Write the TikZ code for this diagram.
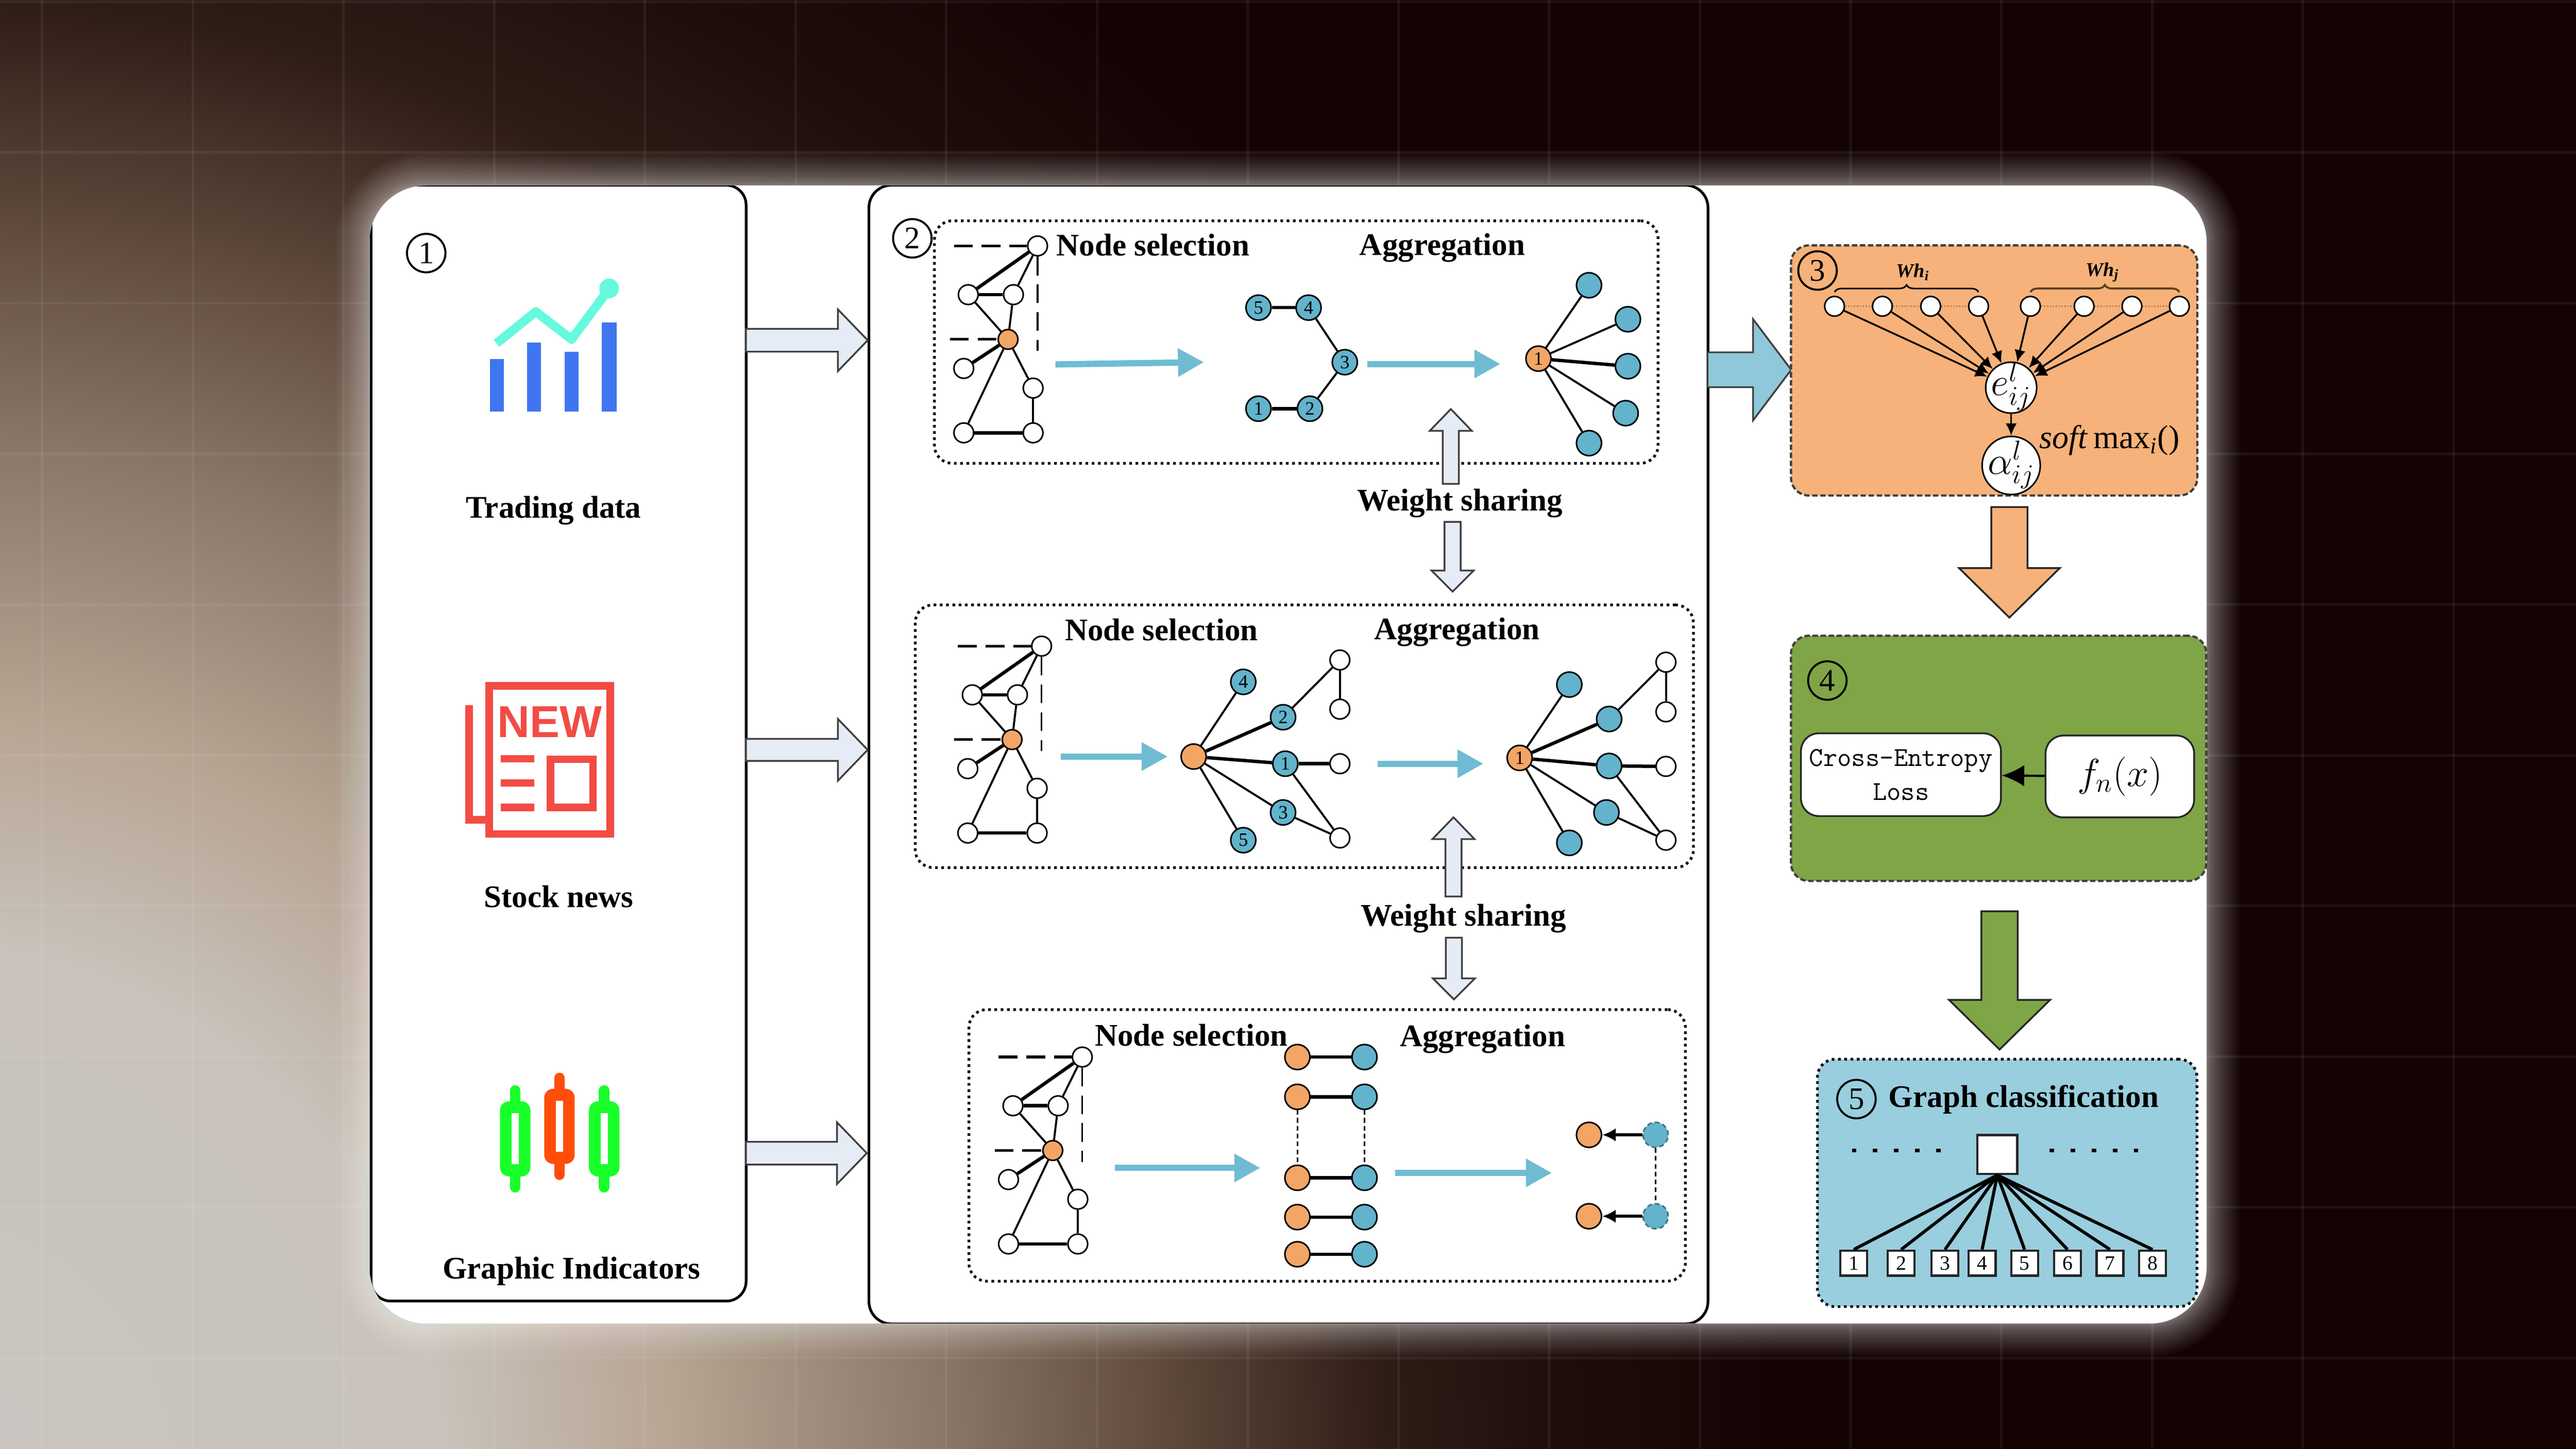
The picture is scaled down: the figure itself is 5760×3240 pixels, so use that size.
\documentclass[tikz,border=0pt]{standalone}
\usepackage{fontspec}
\setmainfont{Liberation Serif}
\setsansfont{Liberation Sans}
\usetikzlibrary{positioning,shapes,arrows.meta,decorations.pathreplacing}

\definecolor{bgdark}{HTML}{130303}
\definecolor{bgA}{HTML}{C9C5C0}
\definecolor{bgB}{HTML}{C8C2BA}
\definecolor{bgC}{HTML}{B8A594}
\definecolor{bgD}{HTML}{8C7868}
\definecolor{bgE}{HTML}{5F4A3C}
\definecolor{bgF}{HTML}{2E1C16}
\definecolor{bgG}{HTML}{1E0E0B}
\definecolor{nodeblue}{HTML}{62B3CB}
\definecolor{nodeorange}{HTML}{F3A566}
\definecolor{flowblue}{HTML}{6FBCD2}
\definecolor{arrowgray}{HTML}{E6ECF5}
\definecolor{attnorange}{HTML}{F6B27A}
\definecolor{lossgreen}{HTML}{7FA547}
\definecolor{classblue}{HTML}{99CEDE}
\definecolor{bigblue}{HTML}{8FC8DA}
\definecolor{barblue}{HTML}{3F76F0}
\definecolor{trendmint}{HTML}{66F9DD}
\definecolor{newsred}{HTML}{F24C45}
\definecolor{candlegreen}{HTML}{19FF2A}
\definecolor{candlered}{HTML}{FF4D0A}

\pgfdeclareradialshading{bgglow}{\pgfpoint{0bp}{0bp}}{%
  color(0bp)=(bgA); color(7.14bp)=(bgB); color(10.12bp)=(bgC); color(13.69bp)=(bgD);
  color(16.67bp)=(bgE); color(19.64bp)=(bgF); color(22.02bp)=(bgG); color(25bp)=(bgdark); color(50bp)=(bgdark)}

% one candle of the indicator icon
\newcommand{\candle}[3]{%
  \draw[#3, line width=.24cm, line cap=round] (#1,#2-108) -- (#1,#2+108);
  \fill[#3, rounded corners=.2cm] (#1-34,#2-84) rectangle (#1+34,#2+84);
  \fill[white] (#1-8,#2-57) rectangle (#1+8,#2+57);
}

% the graph that is repeated on the left of the three dotted frames
\newcommand{\selgraph}{%
  \node[wnode] (top) at (2320,550) {};
  \node[wnode] (left) at (2165,659) {};
  \node[wnode] (right) at (2266,659) {};
  \node[onode, minimum size=.44cm] (mid) at (2254,759) {};
  \node[wnode] (leaf) at (2155,824) {};
  \node[wnode] (low) at (2310,868) {};
  \node[wnode] (botl) at (2155,968) {};
  \node[wnode] (botr) at (2310,968) {};
  \coordinate (dasha) at (2133,550);
  \coordinate (dashb) at (2124,759);
  \coordinate (dashc) at (2320,785);
  \draw[hopdash] (dasha) -- (top);
  \draw[hopdash] (dashb) -- (mid);
  \draw[hopdash, line width=.04cm] (top) -- (dashc);
  \draw[boldedge] (top) -- (left);
  \draw[edgeline] (top) -- (right);
  \draw[boldedge] (left) -- (right);
  \draw[edgeline] (left) -- (mid);
  \draw[edgeline] (right) -- (mid);
  \draw[boldedge] (mid) -- (leaf);
  \draw[edgeline] (mid) -- (low);
  \draw[edgeline] (mid) -- (botl);
  \draw[edgeline] (low) -- (botr);
  \draw[boldedge] (botl) -- (botr);
}

\tikzset{
  txt/.style={font=\fontsize{20}{24}\bfseries\selectfont, inner sep=0pt},
  circlednum/.style={circle, draw=black, line width=.045cm, minimum size=.86cm, inner sep=0pt,
    font=\fontsize{20}{20}\selectfont},
  wnode/.style={circle, draw=black, fill=white, inner sep=0pt, minimum size=.44cm, line width=.035cm},
  bnode/.style={wnode, fill=nodeblue, minimum size=.56cm, font=\fontsize{12}{12}\selectfont},
  onode/.style={bnode, fill=nodeorange},
  edgeline/.style={line width=.045cm, black},
  boldedge/.style={line width=.075cm, black},
  hopdash/.style={line width=.06cm, black, dash pattern=on .42cm off .2cm},
  flow/.style={line width=.14cm, flowblue, -{Triangle[length=.58cm,width=.6cm]}},
  dotframe/.style={draw=black, rounded corners=.4cm, line width=.06cm,
    dash pattern=on .06cm off .08cm},
  sidebox/.style={rounded corners=.4cm, line width=.05cm, draw=black!75, dash pattern=on .12cm off .06cm},
  outerbox/.style={draw=black, line width=.06cm, fill=white},
  softbox/.style={draw=black!85, fill=white, rounded corners=.4cm, line width=.04cm, inner sep=0pt},
  smallsq/.style={draw=black!85, fill=white, line width=.05cm, minimum width=.6cm, minimum height=.56cm,
    inner sep=0pt, font=\fontsize{13}{13}\selectfont},
  attn/.style={-{Latex[length=.27cm,width=.25cm]}, line width=.04cm, black},
  dotrow/.style={line width=.09cm, black, dash pattern=on .1cm off .37cm},
  % length, half shaft, head extend, tip angle
  bigarrow/.style n args={4}{single arrow, draw=black!75, fill=arrowgray, line width=.04cm, anchor=tail,
    inner xsep=0pt, inner ysep=#2cm, outer sep=0pt, single arrow head indent=0pt,
    minimum height=#1cm, single arrow head extend=#3cm, single arrow tip angle=#4},
}

\begin{document}
\begin{tikzpicture}[x=.01cm, y=-.01cm]
  \path[use as bounding box] (0,0) rectangle (5760,3240);

  % background
  \begin{scope}
    \clip (0,0) rectangle (5760,3240);
    \fill[bgdark] (0,0) rectangle (5760,3240);
    \shade[shading=bgglow] (-200,3300) circle (42cm);
    \foreach \gx in {94,431,...,5486} {
      \draw[white, opacity=.06, line width=.06cm] (\gx,0) -- (\gx,3240);
    }
    \foreach \gy in {4,341,...,3037} {
      \draw[white, opacity=.06, line width=.06cm] (0,\gy) -- (5760,\gy);
    }
    \foreach \g in {1,...,30} {
      \pgfmathsetmacro\ge{75*(1-(\g-1)/30)^2}
      \pgfmathsetmacro\gr{(127+\ge)/100}
      \fill[white, opacity=.025, rounded corners=\gr cm] (826-\ge,415-\ge) rectangle (4934+\ge,2960+\ge);
    }
  \end{scope}
  \fill[white, rounded corners=1.27cm] (826,415) rectangle (4934,2960);

  % outer boxes, cut by the white sheet
  \begin{scope}
    \clip[rounded corners=1.27cm] (826,415) rectangle (4934,2960);
    \node[outerbox, rounded corners=.44cm, minimum width=8.38cm, minimum height=24.94cm] (input) at (1249,1662) {};
    \node[outerbox, rounded corners=.5cm, minimum width=18.75cm, minimum height=25.45cm] (gnn) at (2881,1687.5) {};
  \end{scope}

  % part 1
  \node[circlednum] (numone) at (953,566) {1};
  \fill[barblue] (1095,803) rectangle (1127,920);
  \fill[barblue] (1179,766) rectangle (1210,920);
  \fill[barblue] (1262,787) rectangle (1294,920);
  \fill[barblue] (1346,721) rectangle (1379,920);
  \draw[trendmint, line width=.2cm, line join=round] (1110,768) -- (1198,697) -- (1278,759) -- (1362,646);
  \fill[trendmint] (1362,645) circle (.22cm);
  \node[txt] (trading) at (1238,1142) {Trading data};

  \draw[newsred, line width=.17cm] (1093.5,1534) rectangle (1364.5,1865);
  \draw[newsred, line width=.17cm] (1049,1577) -- (1049,1833) -- (1090,1833);
  \node[inner sep=0pt, text=newsred, font=\fontsize{28.5}{30}\sffamily\bfseries\selectfont] (newtxt) at (1229,1615) {NEW};
  \draw[newsred, line width=.17cm] (1120,1697) -- (1195,1697);
  \draw[newsred, line width=.17cm] (1120,1751) -- (1195,1751);
  \draw[newsred, line width=.17cm] (1120,1806) -- (1195,1806);
  \draw[newsred, line width=.17cm] (1231,1698) rectangle (1326,1806);
  \node[txt] (news) at (1249,2005) {Stock news};

  \candle{1152}{2547}{candlegreen}
  \candle{1251}{2519}{candlered}
  \candle{1351}{2547}{candlegreen}
  \node[txt] (indicators) at (1278,2843) {Graphic Indicators};

  \node[bigarrow={2.72}{.235}{.435}{92}] (inA) at (1668,761) {};
  \node[bigarrow={2.72}{.225}{.445}{92}] (inB) at (1668,1677) {};
  \node[bigarrow={2.70}{.235}{.435}{92}] (inC) at (1668,2579) {};

  % part 2, frames
  \node[dotframe, minimum width=16.17cm, minimum height=5.42cm] (frameA) at (2898.5,765) {};
  \node[dotframe, minimum width=17.39cm, minimum height=5.87cm] (frameB) at (2916.5,1646.5) {};
  \node[dotframe, minimum width=16.01cm, minimum height=6.07cm] (frameC) at (2967.5,2561.5) {};
  \node[circlednum, fill=white] (numtwo) at (2040,533) {2};

  % part 2, first row
  \node[txt] (selA) at (2578,548) {Node selection};
  \node[txt] (aggA) at (3225,554) {Aggregation};
  \begin{scope}[name prefix=a-]
    \selgraph
  \end{scope}
  \node[bnode] (a5) at (2814,688) {5};
  \node[bnode] (a4) at (2926,688) {4};
  \node[bnode] (a3) at (3007,810) {3};
  \node[bnode] (a2) at (2929,914) {2};
  \node[bnode] (a1) at (2814,914) {1};
  \draw[boldedge] (a5) -- (a4);
  \draw[edgeline] (a4) -- (a3);
  \draw[edgeline] (a3) -- (a2);
  \draw[boldedge] (a2) -- (a1);
  \node[onode] (ra) at (3440,802) {1};
  \node[bnode] (ra1) at (3553,638) {};
  \node[bnode] (ra2) at (3640,714) {};
  \node[bnode] (ra3) at (3640,819) {};
  \node[bnode] (ra4) at (3635,924) {};
  \node[bnode] (ra5) at (3553,991) {};
  \draw[edgeline] (ra) -- (ra1);
  \draw[edgeline] (ra) -- (ra2);
  \draw[boldedge] (ra) -- (ra3);
  \draw[edgeline] (ra) -- (ra4);
  \draw[edgeline] (ra) -- (ra5);
  \coordinate (fa1) at (2360,815);
  \coordinate (fa2) at (2692,810);
  \coordinate (fa3) at (3057,814);
  \coordinate (fa4) at (3355,814);
  \draw[flow] (fa1) -- (fa2);
  \draw[flow] (fa3) -- (fa4);

  \node[bigarrow={1.67}{.16}{.29}{88}] (shareA) at (3244,1082) [rotate=90] {};
  \node[txt] (weightA) at (3264,1125) {Weight sharing};
  \node[bigarrow={1.56}{.16}{.29}{90}] (shareB) at (3248,1167) [rotate=-90] {};

  % part 2, second row
  \node[txt] (selB) at (2597,1409) {Node selection};
  \node[txt] (aggB) at (3258,1413) {Aggregation};
  \begin{scope}[shift={(9,895)}, name prefix=b-]
    \selgraph
  \end{scope}
  \node[onode] (m) at (2669,1692) {};
  \node[bnode] (m4) at (2780,1525) {4};
  \node[bnode] (m2) at (2869,1604) {2};
  \node[bnode] (m1) at (2874,1708) {1};
  \node[bnode] (m3) at (2869,1817) {3};
  \node[bnode] (m5) at (2780,1879) {5};
  \node[wnode] (mw1) at (2996,1476) {};
  \node[wnode] (mw2) at (2996,1586) {};
  \node[wnode] (mw3) at (2996,1708) {};
  \node[wnode] (mw4) at (2996,1874) {};
  \draw[edgeline] (m) -- (m4);
  \draw[boldedge] (m) -- (m2);
  \draw[boldedge] (m) -- (m1);
  \draw[edgeline] (m) -- (m3);
  \draw[edgeline] (m) -- (m5);
  \draw[edgeline] (m2) -- (mw1);
  \draw[edgeline] (mw1) -- (mw2);
  \draw[boldedge] (m1) -- (mw3);
  \draw[edgeline] (m1) -- (mw4);
  \draw[edgeline] (m3) -- (mw4);
  \node[onode] (n) at (3398,1695) {1};
  \node[bnode] (n4) at (3509,1531) {};
  \node[bnode] (n2) at (3598,1608) {};
  \node[bnode] (n1) at (3598,1713) {};
  \node[bnode] (n3) at (3592,1817) {};
  \node[bnode] (n5) at (3509,1885) {};
  \node[wnode] (nw1) at (3725,1481) {};
  \node[wnode] (nw2) at (3725,1592) {};
  \node[wnode] (nw3) at (3725,1714) {};
  \node[wnode] (nw4) at (3725,1879) {};
  \draw[edgeline] (n) -- (n4);
  \draw[boldedge] (n) -- (n2);
  \draw[boldedge] (n) -- (n1);
  \draw[edgeline] (n) -- (n3);
  \draw[edgeline] (n) -- (n5);
  \draw[edgeline] (n2) -- (nw1);
  \draw[edgeline] (nw1) -- (nw2);
  \draw[boldedge] (n1) -- (nw3);
  \draw[edgeline] (n1) -- (nw4);
  \draw[edgeline] (n3) -- (nw4);
  \coordinate (fb1) at (2372,1692);
  \coordinate (fb2) at (2611,1692);
  \coordinate (fb3) at (3080,1708);
  \coordinate (fb4) at (3317,1708);
  \draw[flow] (fb1) -- (fb2);
  \draw[flow] (fb3) -- (fb4);

  \node[bigarrow={1.77}{.16}{.29}{88}] (shareC) at (3250,2005) [rotate=90] {};
  \node[txt] (weightB) at (3272,2054) {Weight sharing};
  \node[bigarrow={1.38}{.16}{.29}{90}] (shareD) at (3251,2097) [rotate=-90] {};

  % part 2, third row
  \node[txt] (selC) at (2664,2315) {Node selection};
  \node[txt] (aggC) at (3315,2324) {Aggregation};
  \begin{scope}[shift={(100,1814)}, name prefix=c-]
    \selgraph
  \end{scope}
  \node[onode] (pa) at (2901,2364) {};
  \node[bnode] (qa) at (3051,2364) {};
  \node[onode] (pb) at (2901,2453) {};
  \node[bnode] (qb) at (3051,2453) {};
  \node[onode] (pc) at (2901,2634) {};
  \node[bnode] (qc) at (3051,2634) {};
  \node[onode] (pd) at (2901,2722) {};
  \node[bnode] (qd) at (3051,2722) {};
  \node[onode] (pe) at (2901,2805) {};
  \node[bnode] (qe) at (3051,2805) {};
  \draw[boldedge] (pa) -- (qa);
  \draw[boldedge] (pb) -- (qb);
  \draw[boldedge] (pc) -- (qc);
  \draw[boldedge] (pd) -- (qd);
  \draw[boldedge] (pe) -- (qe);
  \draw[line width=.03cm, densely dashed] (pb) -- (pc);
  \draw[line width=.03cm, densely dashed] (qb) -- (qc);
  \node[onode] (sa) at (3553,2538) {};
  \node[onode] (sb) at (3553,2720) {};
  \node[bnode, densely dashed, draw=flowblue!60!black] (ta) at (3702,2538) {};
  \node[bnode, densely dashed, draw=flowblue!60!black] (tb) at (3702,2720) {};
  \draw[boldedge, -{Latex[length=.3cm,width=.3cm]}] (ta) -- (sa);
  \draw[boldedge, -{Latex[length=.3cm,width=.3cm]}] (tb) -- (sb);
  \draw[line width=.03cm, densely dashed] (ta) -- (tb);
  \coordinate (fc1) at (2493,2612);
  \coordinate (fc2) at (2818,2612);
  \coordinate (fc3) at (3119,2623);
  \coordinate (fc4) at (3470,2623);
  \draw[flow] (fc1) -- (fc2);
  \draw[flow] (fc3) -- (fc4);

  % part 3
  \node[bigarrow={1.87}{.37}{.74}{106}, fill=bigblue] (toattn) at (3818,827) {};
  \node[sidebox, fill=attnorange, minimum width=9.08cm, minimum height=5.59cm] (attnbox) at (4459,828.5) {};
  \node[circlednum] (numthree) at (4064,605) {3};
  \node[wnode] (wi1) at (4102,685) {};
  \node[wnode] (wi2) at (4209,685) {};
  \node[wnode] (wi3) at (4317,685) {};
  \node[wnode] (wi4) at (4424,685) {};
  \node[wnode] (wj1) at (4540,685) {};
  \node[wnode] (wj2) at (4660,685) {};
  \node[wnode] (wj3) at (4767,685) {};
  \node[wnode] (wj4) at (4873,685) {};
  \draw[densely dotted, line width=.03cm, brown] (wi1) -- (wi2);
  \draw[densely dotted, line width=.03cm, brown] (wi2) -- (wi3);
  \draw[densely dotted, line width=.03cm, brown] (wi3) -- (wi4);
  \draw[densely dotted, line width=.03cm, brown] (wj1) -- (wj2);
  \draw[densely dotted, line width=.03cm, brown] (wj2) -- (wj3);
  \draw[densely dotted, line width=.03cm, brown] (wj3) -- (wj4);
  \draw[decorate, decoration={brace, amplitude=.16cm}, line width=.035cm] ([yshift=.08cm]wi1.north) -- ([yshift=.08cm]wi4.north);
  \draw[decorate, decoration={brace, amplitude=.16cm}, line width=.045cm, black!50!brown] ([yshift=.08cm]wj1.north) -- ([yshift=.08cm]wj4.north);
  \node[inner sep=0pt, font=\fontsize{12.5}{12.5}\bfseries\selectfont] (whi) at (4277,609) {\textit{Wh}\textsubscript{\textit{i}}};
  \node[inner sep=0pt, font=\fontsize{12.5}{12.5}\bfseries\selectfont] (whj) at (4701,609) {\textit{Wh}\textsubscript{\textit{j}}};
  \node[wnode, minimum size=1.14cm, font=\fontsize{25}{25}\selectfont] (eij) at (4497,867) {\smash{\makebox[0pt]{\raisebox{-.2em}{$e_{ij}^{l}$}}}};
  \node[wnode, minimum size=1.3cm, font=\fontsize{27}{27}\selectfont] (aij) at (4497,1041) {\smash{\makebox[0pt]{\raisebox{-.2em}{$\alpha_{ij}^{l}$}}}};
  \draw[attn] (wi1) -- (eij);
  \draw[attn] (wi2) -- (eij);
  \draw[attn] (wi3) -- (eij);
  \draw[attn] (wi4) -- (eij);
  \draw[attn] (wj1) -- (eij);
  \draw[attn] (wj2) -- (eij);
  \draw[attn] (wj3) -- (eij);
  \draw[attn] (wj4) -- (eij);
  \draw[attn] (eij) -- (aij);
  \node[inner sep=0pt, font=\fontsize{21}{21}\selectfont] (softmax) at (4717,985) {\textit{soft}\,max\textsubscript{\textit{i}}()};
  \node[bigarrow={2.47}{.385}{.72}{91}, fill=attnorange, draw=black!85] (toloss) at (4493,1134) [rotate=-90] {};

  % part 4
  \node[sidebox, fill=lossgreen, minimum width=9.28cm, minimum height=5.48cm] (lossbox) at (4469,1696) {};
  \node[circlednum] (numfour) at (4086,1522) {4};
  \node[softbox, minimum width=4.47cm, minimum height=1.85cm, align=center, font=\fontsize{17.4}{21.6}\ttfamily\selectfont] (cross) at (4250.5,1732.5) {Cross-Entropy\\Loss};
  \node[softbox, minimum width=3.32cm, minimum height=1.83cm, font=\fontsize{25}{25}\selectfont] (fnx) at (4740,1736.5) {$f_n(x)$};
  \draw[boldedge, line width=.05cm, -{Latex[length=.5cm,width=.48cm]}] (fnx) -- (cross);
  \node[bigarrow={3.09}{.385}{.725}{91}, fill=lossgreen, draw=black!85] (toclass) at (4471,2038) [rotate=-90] {};

  % part 5
  \node[dotframe, fill=classblue, minimum width=8.48cm, minimum height=5.53cm] (classbox) at (4488,2645.5) {};
  \node[circlednum] (numfive) at (4151,2458) {5};
  \node[txt] (graphcls) at (4525,2459) {Graph classification};
  \coordinate (dotsa) at (4141,2573);
  \coordinate (dotsb) at (4345,2573);
  \coordinate (dotsc) at (4583,2573);
  \coordinate (dotsd) at (4787,2573);
  \draw[dotrow] (dotsa) -- (dotsb);
  \draw[dotrow] (dotsc) -- (dotsd);
  \node[smallsq, minimum width=.89cm, minimum height=.87cm] (graphtop) at (4466,2582) {};
  \node[smallsq] (c1) at (4145,2825) {1};
  \node[smallsq] (c2) at (4251,2825) {2};
  \node[smallsq] (c3) at (4349,2825) {3};
  \node[smallsq] (c4) at (4432,2825) {4};
  \node[smallsq] (c5) at (4527,2825) {5};
  \node[smallsq] (c6) at (4623,2825) {6};
  \node[smallsq] (c7) at (4718,2825) {7};
  \node[smallsq] (c8) at (4813,2825) {8};
  \draw[edgeline, line width=.07cm] (graphtop.south) -- (c1.north);
  \draw[edgeline, line width=.07cm] (graphtop.south) -- (c2.north);
  \draw[edgeline, line width=.07cm] (graphtop.south) -- (c3.north);
  \draw[edgeline, line width=.07cm] (graphtop.south) -- (c4.north);
  \draw[edgeline, line width=.07cm] (graphtop.south) -- (c5.north);
  \draw[edgeline, line width=.07cm] (graphtop.south) -- (c6.north);
  \draw[edgeline, line width=.07cm] (graphtop.south) -- (c7.north);
  \draw[edgeline, line width=.07cm] (graphtop.south) -- (c8.north);
\end{tikzpicture}
\end{document}
